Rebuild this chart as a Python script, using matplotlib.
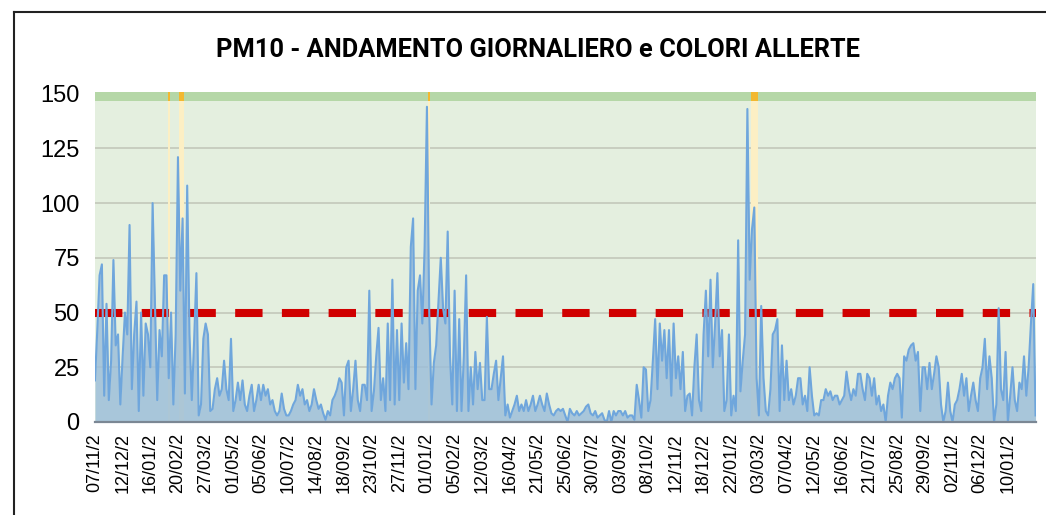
import numpy as np
import matplotlib.pyplot as plt
from matplotlib.lines import Line2D

# chart text
title = 'PM10 - ANDAMENTO GIORNALIERO e COLORI ALLERTE'
tick_labels = ['07/11/2', '12/12/2', '16/01/2', '20/02/2', '27/03/2', '01/05/2',
               '05/06/2', '10/07/2', '14/08/2', '18/09/2', '23/10/2', '27/11/2',
               '01/01/2', '05/02/2', '12/03/2', '16/04/2', '21/05/2', '25/06/2',
               '30/07/2', '03/09/2', '08/10/2', '12/11/2', '18/12/2', '22/01/2',
               '03/03/2', '07/04/2', '12/05/2', '16/06/2', '21/07/2', '25/08/2',
               '29/09/2', '02/11/2', '06/12/2', '10/01/2']
y_ticks = [0, 25, 50, 75, 100, 125, 150]

# PM10 values (12 samples per label interval)
pm10 = [
    19, 42, 67, 72, 12, 54, 10, 28, 74, 35, 40, 8,
    30, 50, 40, 90, 15, 40, 55, 5, 50, 12, 45, 40,
    25, 100, 55, 10, 42, 30, 67, 67, 20, 50, 8, 40,
    121, 60, 93, 13, 108, 40, 10, 37, 68, 3, 8, 38,
    45, 40, 5, 6, 15, 20, 12, 15, 28, 15, 10, 38,
    5, 10, 18, 10, 19, 8, 5, 12, 17, 5, 10, 17,
    10, 17, 12, 15, 8, 10, 5, 3, 5, 13, 6, 3,
    3, 5, 8, 10, 17, 12, 15, 8, 10, 5, 8, 15,
    10, 6, 8, 4, 1, 5, 3, 10, 12, 15, 20, 18,
    3, 25, 28, 5, 15, 28, 10, 5, 17, 17, 10, 60,
    5, 14, 30, 43, 10, 20, 5, 45, 10, 65, 8, 42,
    10, 45, 18, 36, 15, 80, 93, 15, 60, 67, 45, 80,
    144, 50, 8, 27, 35, 55, 75, 52, 45, 87, 30, 8,
    60, 5, 47, 5, 30, 67, 5, 25, 8, 32, 15, 27,
    10, 10, 48, 15, 15, 22, 28, 10, 20, 30, 3, 8,
    2, 5, 8, 12, 5, 8, 5, 10, 5, 8, 12, 5,
    8, 12, 8, 5, 13, 8, 4, 3, 5, 6, 5, 6,
    3, 0, 6, 4, 3, 5, 3, 4, 5, 7, 8, 4,
    3, 5, 2, 3, 4, 1, 0, 5, 0, 5, 3, 5,
    5, 3, 5, 2, 3, 3, 1, 17, 10, 2, 25, 24,
    5, 10, 28, 47, 15, 45, 28, 42, 20, 42, 12, 45,
    20, 30, 15, 32, 5, 12, 13, 3, 25, 40, 10, 5,
    40, 60, 30, 65, 25, 45, 68, 30, 42, 5, 10, 40,
    3, 12, 5, 83, 14, 28, 40, 143, 65, 88, 98, 20,
    3, 53, 20, 5, 3, 15, 40, 42, 47, 5, 35, 10,
    28, 10, 15, 8, 12, 20, 20, 8, 12, 5, 25, 12,
    3, 4, 3, 10, 10, 15, 12, 14, 10, 12, 12, 8,
    10, 12, 23, 15, 10, 15, 12, 22, 22, 15, 10, 22,
    20, 12, 20, 8, 12, 5, 8, 0, 12, 18, 15, 20,
    22, 20, 2, 30, 28, 33, 35, 36, 28, 32, 5, 25,
    25, 15, 27, 15, 22, 30, 25, 8, 0, 5, 18, 5,
    0, 8, 10, 15, 22, 12, 20, 5, 12, 18, 10, 5,
    20, 25, 38, 15, 30, 20, 0, 8, 52, 15, 10, 32,
    0, 12, 25, 10, 5, 18, 15, 30, 12, 25, 45, 63, 3,
]
limit = 50
# samples that fall on alert days (orange)
alert_days = [32, 37, 38, 145, 285, 286, 287]
samples_per_label = 12

fig = plt.figure(figsize=(10.46, 5.15), dpi=100)
ax = fig.add_axes([0.0908, 0.1806, 0.8992, 0.6414])

x = np.arange(len(pm10))
top = 150.9

ax.set_facecolor('#e4efdf')
ax.axhspan(146.8, top, color='#b5d7a7', lw=0, zorder=1.2)
for t in y_ticks[1:-1]:
    ax.axhline(t, color='#c5cbbd', lw=1.3, zorder=1)
for d in alert_days:
    ax.axvspan(d - 0.5, d + 0.5, color='#fcefc4', lw=0, zorder=1.3)
    ax.axvspan(d - 0.5, d + 0.5, ymin=146.8 / top, ymax=1, color='#f2b830',
               lw=0, zorder=1.4)

ax.fill_between(x, pm10, 0, color='#9bbdd9', alpha=0.82, lw=0, zorder=2)
ax.axhline(limit, color='#d00000', lw=5.8, dashes=(3.4, 2.4), zorder=3)
ax.plot(x, pm10, color='#6fa6dc', lw=1.5, zorder=4)

ax.set_xlim(0, len(pm10) - 1)
ax.set_ylim(0, top)
ax.set_yticks(y_ticks)
ax.set_yticklabels([str(t) for t in y_ticks], fontsize=17, family='Liberation Sans')
ax.set_xticks(np.arange(len(tick_labels)) * samples_per_label)
ax.set_xticklabels(tick_labels, rotation=90, fontsize=13, family='Liberation Sans')
ax.tick_params(axis='both', length=0)
ax.tick_params(axis='y', pad=11)
ax.tick_params(axis='x', pad=8)

for s in ['top', 'right', 'left']:
    ax.spines[s].set_visible(False)
ax.spines['bottom'].set_color('#7b8794')
ax.spines['bottom'].set_linewidth(1.6)
ax.spines['bottom'].set_zorder(5)

fig.text(0.514, 0.903, title, ha='center', va='center', fontsize=18.3,
         fontweight='bold', family='Roboto')

# chart frame (left and top edges)
bx = 13.5 / 1046
by = 1 - 11.7 / 515
fig.add_artist(Line2D([bx, bx], [0, by], transform=fig.transFigure, color='#222222', lw=1.5))
fig.add_artist(Line2D([bx, 1], [by, by], transform=fig.transFigure, color='#222222', lw=1.5))

fig.savefig('out.png', dpi=100)
